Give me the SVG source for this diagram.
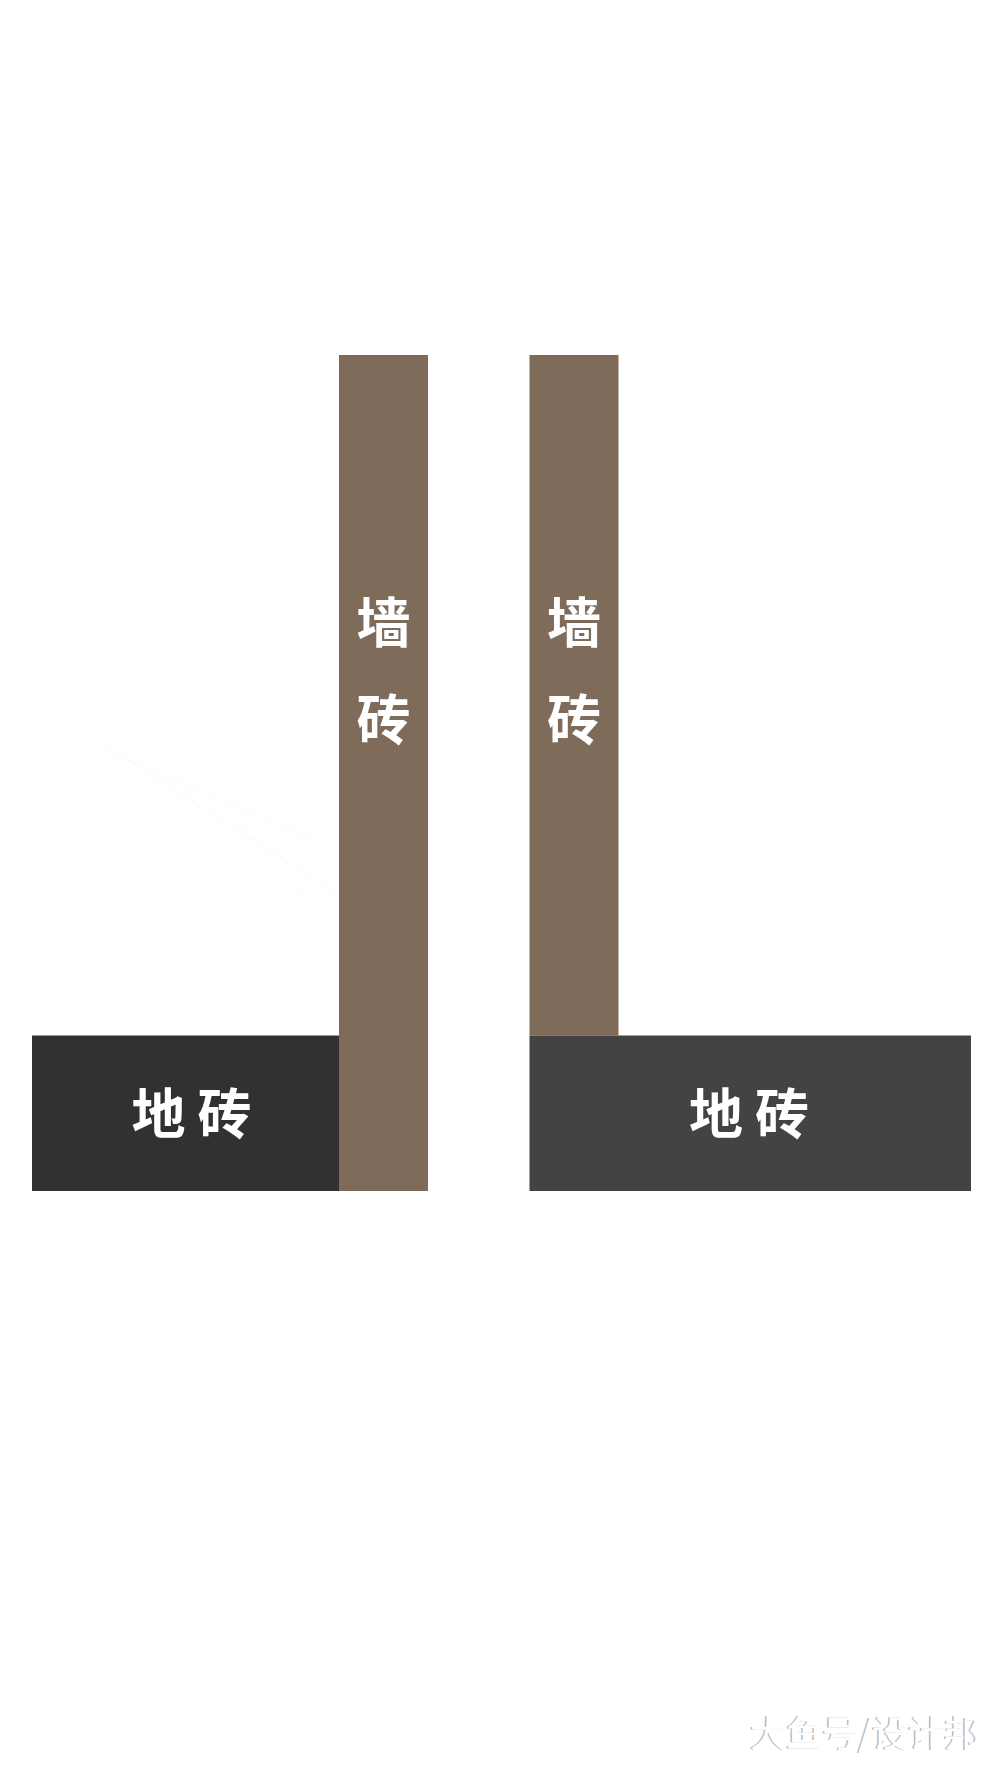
<svg xmlns="http://www.w3.org/2000/svg" width="1000" height="1777" viewBox="0 0 1000 1777">
  <style>
    .wall { fill: #7e6b5a; }
    .lbl { font-family: "Noto Sans CJK SC", "Noto Sans", sans-serif; font-size: 54px; font-weight: 700; fill: #ffffff; text-anchor: middle; dominant-baseline: central; }
    .faint { stroke: #f1f1f1; stroke-width: 1; stroke-dasharray: 1.5 2.5; fill: none; }
    .wm { font-family: "Noto Sans CJK SC", "Noto Sans", sans-serif; font-size: 36px; font-weight: 400; }
  </style>
  <rect x="0" y="0" width="1000" height="1777" fill="#ffffff"/>
  <g id="faint-lines">
    <line class="faint" x1="100" y1="747" x2="318" y2="842"/>
    <line class="faint" x1="128" y1="760" x2="337" y2="893"/>
    <line class="faint" x1="240" y1="828" x2="320" y2="910"/>
  </g>
  <g id="left-floor">
    <rect x="32" y="1035.5" width="307" height="155.5" fill="#313131"/>
    <text class="lbl" x="197.5" y="1110.5" letter-spacing="12">地砖</text>
  </g>
  <g id="left-wall">
    <rect class="wall" x="339" y="355" width="89" height="836"/>
    <text class="lbl" x="383.5" y="619.5">墙</text>
    <text class="lbl" x="383.5" y="716.5">砖</text>
  </g>
  <g id="right-wall">
    <rect class="wall" x="529.5" y="355" width="89" height="680.5"/>
    <text class="lbl" x="574" y="619.5">墙</text>
    <text class="lbl" x="574" y="716.5">砖</text>
  </g>
  <g id="right-floor">
    <rect x="529.5" y="1035.5" width="441.5" height="155.5" fill="#434343"/>
    <text class="lbl" x="755" y="1110.5" letter-spacing="12">地砖</text>
  </g>
  <g id="connectors"></g>
  <g id="watermark">
    <text class="wm" x="978.5" y="1747" text-anchor="end" fill="#b8b8b8">大鱼号/设计邦</text>
    <text class="wm" x="980" y="1747" text-anchor="end" fill="#ffffff">大鱼号/设计邦</text>
  </g>
</svg>
